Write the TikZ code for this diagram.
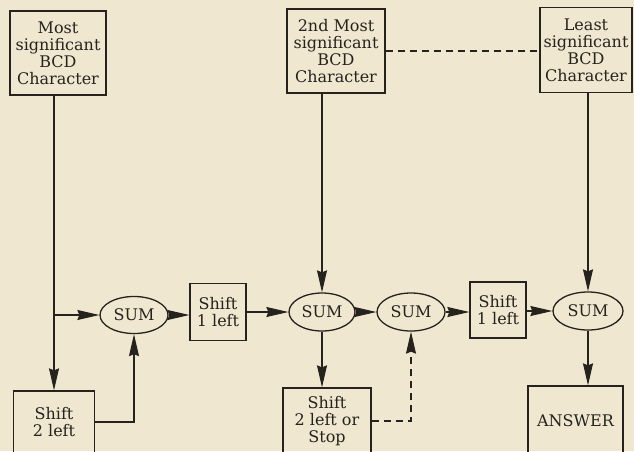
\documentclass[tikz,border=0pt]{standalone}
\usepackage{fontspec}
\setmainfont{DejaVu Serif}
\usetikzlibrary{arrows.meta,shapes.geometric}
\definecolor{paper}{HTML}{EFE7CF}
\definecolor{ink}{HTML}{26221E}
\begin{document}
\begin{tikzpicture}[x=1pt,y=-1pt,
  every node/.style={font=\fontsize{16}{17}\selectfont, text=ink, align=center, inner sep=0pt},
  boxn/.style={draw=ink, line width=1.3pt, rectangle},
  sumn/.style={draw=ink, line width=1.3pt, ellipse, minimum width=68pt, minimum height=37pt},
  ln/.style={draw=ink, line width=1.1pt},
  tip/.tip={Stealth[length=22pt,width=10pt,inset=2pt]},
  conn/.style={ln, -tip},
  dconn/.style={conn, dash pattern=on 7pt off 5pt},
  dln/.style={ln, dash pattern=on 7pt off 5pt}]
\useasboundingbox (0,0) rectangle (634,451);
\fill[paper] (0,0) rectangle (634,451);
\clip (0,0) rectangle (634,451);

% top boxes
\node[boxn, minimum width=96pt, minimum height=84pt] (b1) at (58,53) {Most\\significant\\BCD\\Character};
\node[boxn, minimum width=98pt, minimum height=84pt] (b2) at (336,51) {2nd Most\\significant\\BCD\\Character};
\node[boxn, minimum width=92pt, minimum height=85pt] (b3) at (586,50) {Least\\significant\\BCD\\Character};

% middle row
\node[sumn] (s1) at (134,315) {SUM};
\node[boxn, minimum width=56pt, minimum height=57pt] (sh1) at (218,312) {Shift\\1 left};
\node[sumn, minimum width=66pt, minimum height=38pt] (s2) at (322,312) {SUM};
\node[sumn, minimum height=38pt] (s3) at (411,312) {SUM};
\node[boxn, minimum width=56pt, minimum height=56pt] (sh2) at (498,310) {Shift\\1 left};
\node[sumn, minimum width=70pt, minimum height=38pt] (s4) at (588,311) {SUM};

% bottom row
\node[boxn, minimum width=81pt, minimum height=62pt] (l2) at (54,422) {Shift\\2 left};
\node[boxn, minimum width=88pt, minimum height=66pt] (st) at (327,421) {Shift\\2 left or\\Stop};
\node[boxn, minimum width=95pt, minimum height=70pt] (ans) at (575.5,421) {ANSWER};

% connectors
\draw[conn] (b1.south -| l2.north) -- (l2.north);
\coordinate (br) at (l2.north |- s1.west);
\draw[conn] (br) -- (s1.west);
\draw[conn] (l2.east) -| (s1.south);
\draw[conn] (s1.east) -- (sh1.west |- s1.east);
\draw[conn] (sh1.east |- s2.west) -- (s2.west);
\draw[conn] (b2.south -| s2.north) -- (s2.north);
\draw[dln] (b2.east) -- (b2.east -| b3.west);
\draw[dconn] (s2.east) -- (s3.west);
\draw[conn] (s2.south) -- (s2.south |- st.north);
\draw[dconn] (st.east) -| (s3.south);
\draw[conn] (s3.east) -- (sh2.west |- s3.east);
\draw[conn] (sh2.east |- s4.west) -- (s4.west);
\draw[conn] (b3.south -| s4.north) -- (s4.north);
\draw[conn] (s4.south) -- (s4.south |- ans.north);
\end{tikzpicture}
\end{document}
